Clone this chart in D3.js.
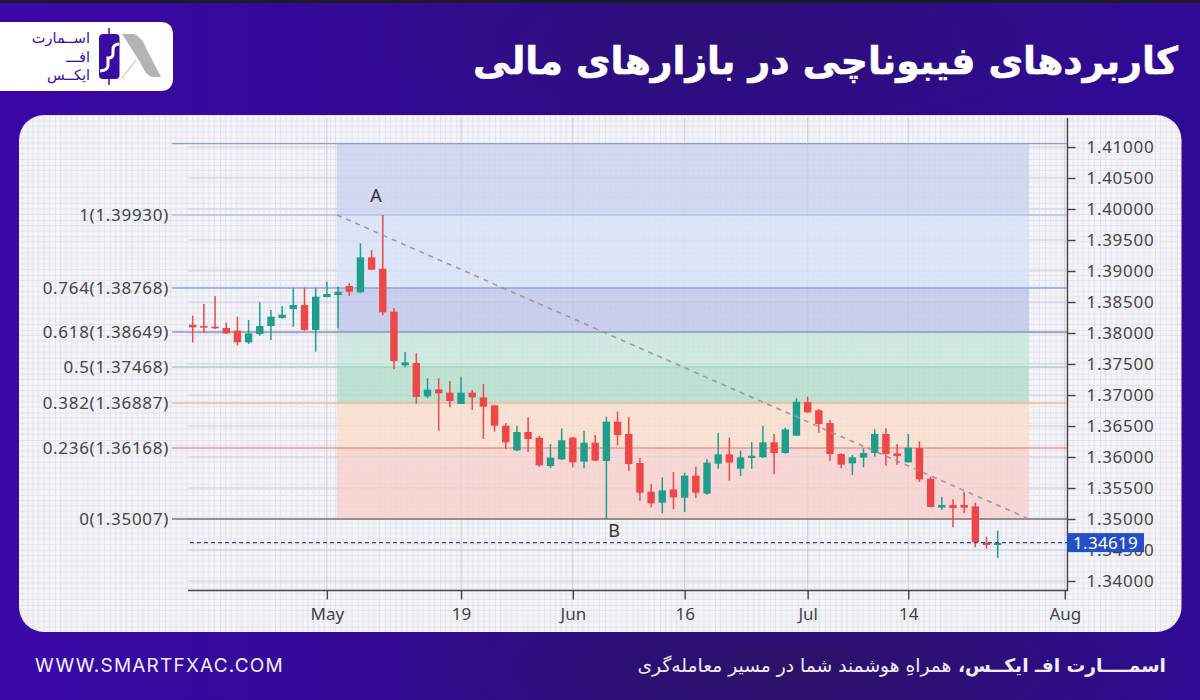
<!DOCTYPE html>
<html>
<head>
<meta charset="utf-8">
<script src="https://cdn.jsdelivr.net/npm/d3@7"></script>
<style>
  body { margin: 0; background: #2f0a92; }
  svg { display: block; }
  .tick text { font-family: "Noto Sans", sans-serif; font-size: 17px; fill: #444; }
</style>
</head>
<body>
<div id="chart-area"></div>
<script>
const opens = [1.38134,1.38113,1.38102,1.38080,1.38037,1.37849,1.37984,1.38113,1.38242,1.38387,1.38451,1.38048,1.38580,1.38613,1.38758,1.38656,1.39220,1.39037,1.38344,1.37478,1.37516,1.36978,1.37091,1.37038,1.36855,
  1.37038,1.36962,1.36833,1.36505,1.36107,1.36403,1.36312,1.35855,1.35962,1.36312,1.35925,1.36231,1.35935,1.36570,1.36371,1.35903,1.35441,1.35263,1.35478,1.35344,1.35699,1.35409,1.35892,1.36043,1.35812,
  1.35984,1.35995,1.36236,1.36064,1.36344,1.36887,1.36753,1.36548,1.36048,1.35898,1.35989,1.36064,1.36371,1.36059,1.35914,1.36145,1.35650,1.35183,1.35226,1.35226,1.35204,1.34618,1.34581]
const highs = [1.38279,1.38468,1.38597,1.38167,1.38263,1.38209,1.38494,1.38371,1.38435,1.38731,1.38731,1.38731,1.38828,1.38747,1.38801,1.39446,1.39338,1.39903,1.38398,1.37693,1.37672,1.37269,1.37269,1.37226,1.37296,
  1.37081,1.37177,1.36833,1.36543,1.36500,1.36640,1.36339,1.36210,1.36462,1.36328,1.36425,1.36355,1.36650,1.36731,1.36640,1.35984,1.35564,1.35672,1.35758,1.35747,1.35844,1.35962,1.36392,1.36312,1.36102,
  1.36242,1.36500,1.36371,1.36473,1.36946,1.36973,1.36774,1.36597,1.36059,1.36032,1.36140,1.36446,1.36462,1.36210,1.36371,1.36253,1.35683,1.35360,1.35317,1.35441,1.35263,1.34715,1.34812]
const lows = [1.37849,1.38005,1.38064,1.37984,1.37801,1.37822,1.37957,1.37887,1.38231,1.38102,1.38037,1.37699,1.38575,1.38075,1.38597,1.38650,1.39016,1.38285,1.37414,1.37446,1.36860,1.36946,1.36425,1.36801,1.36855,
  1.36758,1.36290,1.36409,1.36129,1.36091,1.36081,1.35844,1.35823,1.35952,1.35833,1.35817,1.35930,1.35000,1.36188,1.35780,1.35296,1.35188,1.35091,1.35156,1.35113,1.35339,1.35392,1.35812,1.35618,1.35694,
  1.35812,1.35984,1.35720,1.36054,1.36339,1.36715,1.36392,1.35935,1.35817,1.35710,1.35833,1.36005,1.35860,1.35876,1.35909,1.35597,1.35188,1.35145,1.34866,1.35091,1.34543,1.34522,1.34371]
const closes = [1.38091,1.38086,1.38075,1.37994,1.37849,1.37994,1.38113,1.38263,1.38296,1.38451,1.38048,1.38586,1.38629,1.38666,1.38666,1.39220,1.39021,1.38333,1.37548,1.37527,1.36968,1.37086,1.37027,1.36903,1.37038,
  1.36962,1.36812,1.36505,1.36236,1.36403,1.36290,1.35866,1.35989,1.36269,1.35914,1.36231,1.35941,1.36570,1.36355,1.35887,1.35425,1.35253,1.35462,1.35349,1.35699,1.35425,1.35909,1.36043,1.35909,1.35995,
  1.36021,1.36236,1.36064,1.36446,1.36892,1.36720,1.36532,1.36048,1.35876,1.35995,1.36064,1.36371,1.36048,1.36016,1.36150,1.35640,1.35194,1.35226,1.35177,1.35183,1.34624,1.34581,1.34613]

const priceTicks = [1.34,1.345,1.35,1.355,1.36,1.365,1.37,1.375,1.38,1.385,1.39,1.395,1.40,1.405,1.41]
const dateTicks = [12,24,34,44,55,64,78]
const dateLabels = ['May','19','Jun','16','Jul','14','Aug']

// fib levels: where they sit on the plot, and what their labels say
const fibPrices = [1.41056,1.39903,1.38726,1.38016,1.37452,1.36871,1.36145,1.35]
const fibLabels = ['','1(1.39930)','0.764(1.38768)','0.618(1.38649)','0.5(1.37468)','0.382(1.36887)','0.236(1.36168)','0(1.35007)']
const fibLines = ['#8ea1c9','#a9c5ec','#8fa4d8','#9094bb','#a9d2c6','#f0b98f','#e9988a','#777777']
const fibBands = ['#c9d0ee','#d6e1f8','#bcc3e9','#c6e5db','#aedcc5','#fcdcc8','#f8cfca']
const fibStart = 12.9
const fibEnd = 74.8
const lastPrice = 1.34619

const UP = '#1f9e8e'
const DOWN = '#ee4747'

const svg = d3.select('#chart-area').append('svg')
  .attr('width', 1200)
  .attr('height', 700)

const defs = svg.append('defs')

const bgGrad = defs.append('linearGradient').attr('id', 'bg')
  .attr('x1', 0).attr('y1', 0).attr('x2', 1).attr('y2', 0)
bgGrad.append('stop').attr('offset', '0%').attr('stop-color', '#3a08a8')
bgGrad.append('stop').attr('offset', '55%').attr('stop-color', '#2d0c86')
bgGrad.append('stop').attr('offset', '100%').attr('stop-color', '#300a96')

const blob = defs.append('radialGradient').attr('id', 'blob')
blob.append('stop').attr('offset', '0%').attr('stop-color', '#2c1264').attr('stop-opacity', 0.9)
blob.append('stop').attr('offset', '100%').attr('stop-color', '#2c1264').attr('stop-opacity', 0)

// graph paper behind the chart
const paper = defs.append('pattern').attr('id', 'paper')
  .attr('patternUnits', 'userSpaceOnUse')
  .attr('width', 27.5).attr('height', 27.5)
paper.append('rect').attr('width', 27.5).attr('height', 27.5).attr('fill', '#f4f4f9')
d3.range(0, 5).forEach((i) => {
  const c = i === 0 ? '#d4d4e0' : '#e3e3ed'
  paper.append('line').attr('x1', i * 5.5).attr('x2', i * 5.5).attr('y1', 0).attr('y2', 27.5).attr('stroke', c)
  paper.append('line').attr('y1', i * 5.5).attr('y2', i * 5.5).attr('x1', 0).attr('x2', 27.5).attr('stroke', c)
})

svg.append('rect').attr('width', 1200).attr('height', 700).attr('fill', 'url(#bg)')
svg.append('ellipse').attr('cx', 800).attr('cy', 670).attr('rx', 420).attr('ry', 110).attr('fill', 'url(#blob)')
svg.append('ellipse').attr('cx', 760).attr('cy', 40).attr('rx', 420).attr('ry', 90).attr('fill', 'url(#blob)').attr('opacity', 0.5)
svg.append('rect').attr('width', 1200).attr('height', 3).attr('fill', '#1d1a2b')

// title
svg.append('text')
  .attr('x', 1178).attr('y', 74)
  .attr('direction', 'rtl')
  .attr('font-family', 'DejaVu Sans')
  .attr('font-weight', 700)
  .attr('font-size', 37.7)
  .attr('fill', '#fff')
  .attr('stroke', '#fff')
  .attr('stroke-width', 0.6)
  .text('کاربردهای فیبوناچی در بازارهای مالی')

// logo
const logo = svg.append('g')
logo.append('path').attr('d', 'M0,22 H160 Q173,22 173,35 V78 Q173,91 160,91 H0 Z').attr('fill', '#fff')
;['اســمارت', 'افـــ', 'ایکــس'].forEach((t, i) => {
  logo.append('text')
    .attr('x', 90).attr('y', 43 + i * 18.5)
    .attr('direction', 'rtl')
    .attr('font-family', 'DejaVu Sans')
    .attr('font-size', 14.5)
    .attr('fill', '#3a0ca3')
    .text(t)
})
logo.append('line').attr('x1', 109).attr('x2', 109).attr('y1', 28).attr('y2', 85).attr('stroke', '#3a0ca3').attr('stroke-width', 1.5)
logo.append('rect').attr('x', 99).attr('y', 34).attr('width', 20.5).attr('height', 45).attr('rx', 4).attr('fill', '#3a0ca3')
logo.append('path').attr('d', 'M119,44 Q113,44 113,50 V54 Q113,58 108,58 V66 Q108,70 100,71').attr('fill', 'none').attr('stroke', '#fff').attr('stroke-width', 3)
logo.append('path').attr('d', 'M122,34 H134 Q142,37 147,50 L161,77 H152 Q146,76 140,62 Z').attr('fill', '#b4b4b4')
logo.append('line').attr('x1', 122).attr('y1', 78).attr('x2', 136).attr('y2', 60).attr('stroke', '#b4b4b4').attr('stroke-width', 1)

// panel
svg.append('rect')
  .attr('x', 19).attr('y', 115).attr('width', 1162.5).attr('height', 517)
  .attr('rx', 25)
  .attr('fill', 'url(#paper)')

const x = d3.scaleLinear().domain([0, 78]).range([192.7, 1064.8])
const y = d3.scaleLinear().domain([1.34, 1.41]).range([581, 147])

const plotLeft = 188
const plotRight = 1067.5
const plotBottom = 590.5

// chart grid
svg.append('g').selectAll('line').data(priceTicks).join('line')
  .attr('x1', plotLeft).attr('x2', plotRight)
  .attr('y1', d => y(d)).attr('y2', d => y(d))
  .attr('stroke', '#cfcfd8').attr('stroke-width', 1)
svg.append('g').selectAll('line').data(dateTicks).join('line')
  .attr('x1', d => x(d)).attr('x2', d => x(d))
  .attr('y1', 118).attr('y2', plotBottom)
  .attr('stroke', '#cfcfd8').attr('stroke-width', 1)

// fib bands and lines
svg.append('g').selectAll('rect').data(fibBands).join('rect')
  .attr('x', x(fibStart))
  .attr('width', x(fibEnd) - x(fibStart))
  .attr('y', (d, i) => y(fibPrices[i]))
  .attr('height', (d, i) => y(fibPrices[i + 1]) - y(fibPrices[i]))
  .attr('fill', d => d)
  .attr('opacity', 0.75)

svg.append('g').selectAll('line').data(fibPrices).join('line')
  .attr('x1', 172).attr('x2', plotRight)
  .attr('y1', d => y(d)).attr('y2', d => y(d))
  .attr('stroke', (d, i) => fibLines[i])
  .attr('stroke-width', 1.3)

svg.append('g').selectAll('text').data(fibLabels).join('text')
  .attr('x', 169)
  .attr('y', (d, i) => y(fibPrices[i]) + 6)
  .attr('text-anchor', 'end')
  .attr('font-family', 'Noto Sans')
  .attr('font-size', 17)
  .attr('letter-spacing', 0.7)
  .attr('fill', '#444')
  .text(d => d)

// candles
const candles = opens.map((o, i) => ({ i: i, o: o, h: highs[i], l: lows[i], c: closes[i] }))
const bars = svg.append('g').selectAll('g').data(candles).join('g')
  .attr('fill', d => d.c >= d.o ? UP : DOWN)
  .attr('stroke', d => d.c >= d.o ? UP : DOWN)
bars.append('line')
  .attr('x1', d => x(d.i)).attr('x2', d => x(d.i))
  .attr('y1', d => y(d.h)).attr('y2', d => y(d.l))
  .attr('stroke-width', 1.5)
bars.append('rect')
  .attr('x', d => x(d.i) - 3.7)
  .attr('width', 7.4)
  .attr('y', d => y(Math.max(d.o, d.c)))
  .attr('height', d => Math.abs(y(d.o) - y(d.c)))
  .attr('stroke', 'none')

// A to B trend line
svg.append('line')
  .attr('x1', x(fibStart)).attr('y1', y(fibPrices[1]))
  .attr('x2', x(fibEnd)).attr('y2', y(fibPrices[7]))
  .attr('stroke', '#9a9aa2').attr('stroke-width', 1.6).attr('stroke-dasharray', '5 5')

// last price line
svg.append('line')
  .attr('x1', 190).attr('x2', plotRight)
  .attr('y1', y(lastPrice)).attr('y2', y(lastPrice))
  .attr('stroke', '#2a4a94').attr('stroke-width', 1.2).attr('stroke-dasharray', '4 3')

svg.append('text').attr('x', x(16.4)).attr('y', y(1.40113))
  .attr('text-anchor', 'middle').attr('font-family', 'Noto Sans').attr('font-size', 18).attr('fill', '#333').text('A')
svg.append('text').attr('x', x(37.7)).attr('y', y(1.34715))
  .attr('text-anchor', 'middle').attr('font-family', 'Noto Sans').attr('font-size', 18).attr('fill', '#333').text('B')

// axes
const yAxisCall = d3.axisRight(y)
  .tickValues(priceTicks)
  .tickSize(8)
  .tickPadding(11)
  .tickFormat(d3.format('.5f'))
const yAxis = svg.append('g')
  .attr('transform', `translate(${plotRight}, 0)`)
  .call(yAxisCall)
yAxis.select('.domain').remove()
yAxis.selectAll('.tick line').attr('stroke', '#444').attr('stroke-width', 1.4)
yAxis.selectAll('.tick text').attr('letter-spacing', 0.7)

const xAxisCall = d3.axisBottom(x)
  .tickValues(dateTicks)
  .tickSize(9)
  .tickPadding(8)
  .tickFormat((d, i) => dateLabels[i])
const xAxis = svg.append('g')
  .attr('transform', `translate(0, ${plotBottom})`)
  .call(xAxisCall)
xAxis.select('.domain').remove()
xAxis.selectAll('.tick line').attr('stroke', '#444').attr('stroke-width', 1.4)

svg.append('line').attr('x1', plotRight).attr('x2', plotRight).attr('y1', 118).attr('y2', plotBottom + 0.7)
  .attr('stroke', '#444').attr('stroke-width', 1.4)
svg.append('line').attr('x1', plotLeft).attr('x2', plotRight).attr('y1', plotBottom).attr('y2', plotBottom)
  .attr('stroke', '#444').attr('stroke-width', 1.4)

// last price tag
svg.append('rect').attr('x', plotRight).attr('y', y(lastPrice) - 9.5).attr('width', 76.5).attr('height', 19)
  .attr('fill', '#2350c4')
svg.append('text').attr('x', plotRight + 5.5).attr('y', y(lastPrice) + 6)
  .attr('font-family', 'Noto Sans').attr('font-size', 17).attr('letter-spacing', 0.3).attr('fill', '#fff')
  .text(d3.format('.5f')(lastPrice))

// footer
svg.append('text').attr('x', 35).attr('y', 672)
  .attr('font-family', 'Inter').attr('font-size', 19).attr('letter-spacing', 1.2).attr('fill', '#f1eefa')
  .text('WWW.SMARTFXAC.COM')

const foot = svg.append('text').attr('x', 1166).attr('y', 672)
  .attr('direction', 'rtl')
  .attr('font-family', 'DejaVu Sans')
  .attr('font-size', 18.7)
  .attr('fill', '#f1eefa')
foot.append('tspan').attr('font-weight', 700).text('اسمــــارت افـ ایکــس، ')
foot.append('tspan').text('همراهِ هوشمند شما در مسیر معامله‌گری')
</script>
</body>
</html>
